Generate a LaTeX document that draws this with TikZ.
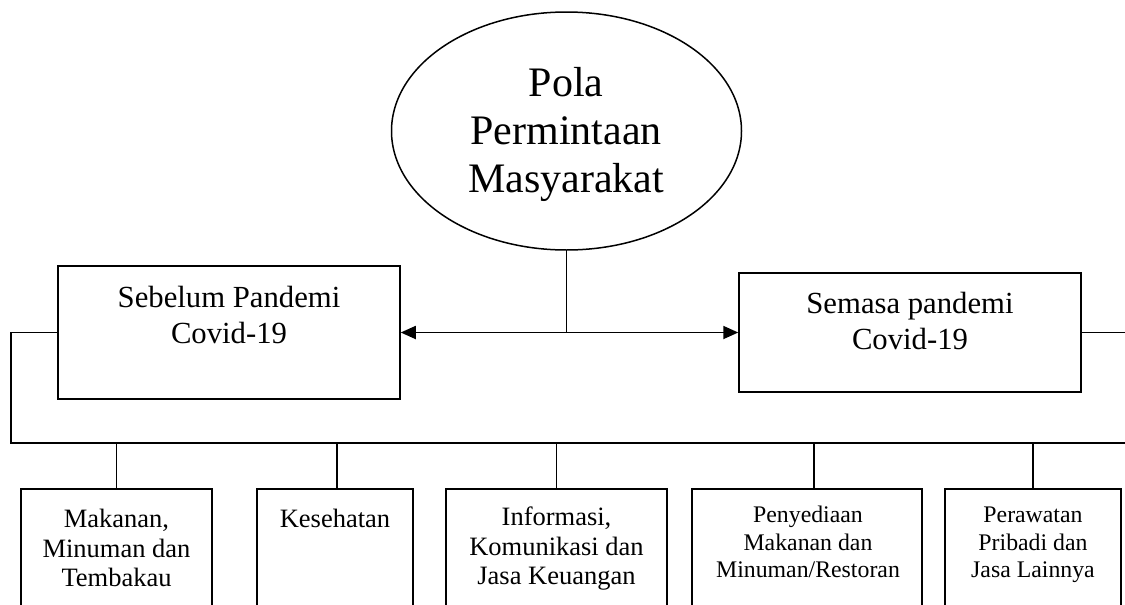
\documentclass[tikz,border=0pt]{standalone}
\usepackage{fontspec}
\setmainfont{Liberation Serif}
\usetikzlibrary{shapes.geometric,arrows.meta}
\begin{document}
\begin{tikzpicture}[x=1pt,y=-1pt,
  line width=1.5pt,
  box/.style={draw, rectangle, inner sep=0pt},
  txt/.style={inner sep=0pt, align=center, anchor=north},
  bigtxt/.style={txt, font=\fontsize{30.7}{36}\selectfont},
  midtxt/.style={txt, font=\fontsize{26.5}{29.5}\selectfont},
  smalltxt/.style={txt, font=\fontsize{23.8}{27.5}\selectfont},
  arr/.style={line width=1.8pt, -{Triangle[length=15pt,width=13pt]}},
  bottombox/.style={box, minimum height=151pt},
]
\useasboundingbox (0,0) rectangle (1125,605);
\clip (0,0) rectangle (1125,605);

% top ellipse
\node[draw, ellipse, minimum width=350pt, minimum height=238pt, inner sep=0pt] (pola) at (566.5,131) {};
\node[txt, font=\fontsize{42}{48}\selectfont] (polat) at (566,62.4) {\strut Pola\\Permintaan\\Masyarakat};

% main boxes
\node[box, minimum width=342pt, minimum height=133pt] (sebelum) at (229,332.5) {};
\node[bigtxt] (sebelumt) at (229,281.8) {\strut Sebelum Pandemi\\Covid-19};
\node[box, minimum width=342pt, minimum height=119pt] (semasa) at (910,332.5) {};
\node[bigtxt] (semasat) at (910,287.8) {\strut Semasa pandemi\\Covid-19};

% connectors from ellipse
\coordinate (jn) at (pola.south |- sebelum.east);
\draw (pola.south) -- (jn);
\draw[arr] (jn) -- (sebelum.east);
\draw[arr] (jn) -- (semasa.west);

% bus
\coordinate (busL) at (11,443);
\coordinate (busR) at (1140,443);
\draw (sebelum.west) -| (busL) -- (busR);
\draw (semasa.east) -| (busR);

% bottom boxes
\node[bottombox, minimum width=191pt] (b1) at (116.5,564.5) {};
\node[bottombox, minimum width=156pt] (b2) at (335,564.5) {};
\node[bottombox, minimum width=221pt] (b3) at (556.5,564.5) {};
\node[bottombox, minimum width=230pt] (b4) at (807,564.5) {};
\node[bottombox, minimum width=176pt] (b5) at (1033,564.5) {};

\node[midtxt] (t1) at (116.5,506.4) {\strut Makanan,\\Minuman dan\\Tembakau};
\node[midtxt] (t2) at (335,506.4) {\strut Kesehatan};
\node[midtxt] (t3) at (556.5,504.4) {\strut Informasi,\\Komunikasi dan\\Jasa Keuangan};
\node[smalltxt] (t4) at (808,502.75) {\strut Penyediaan\\Makanan dan\\Minuman/Restoran};
\node[smalltxt] (t5) at (1033,502.75) {\strut Perawatan\\Pribadi dan\\Jasa Lainnya};

% drops
\draw (b1.north) -- (b1.north |- busL);
\draw ([xshift=2pt]b2.north) -- ([xshift=2pt]b2.north |- busL);
\draw (b3.north) -- (b3.north |- busL);
\draw ([xshift=7pt]b4.north) -- ([xshift=7pt]b4.north |- busL);
\draw (b5.north) -- (b5.north |- busL);
\end{tikzpicture}
\end{document}
